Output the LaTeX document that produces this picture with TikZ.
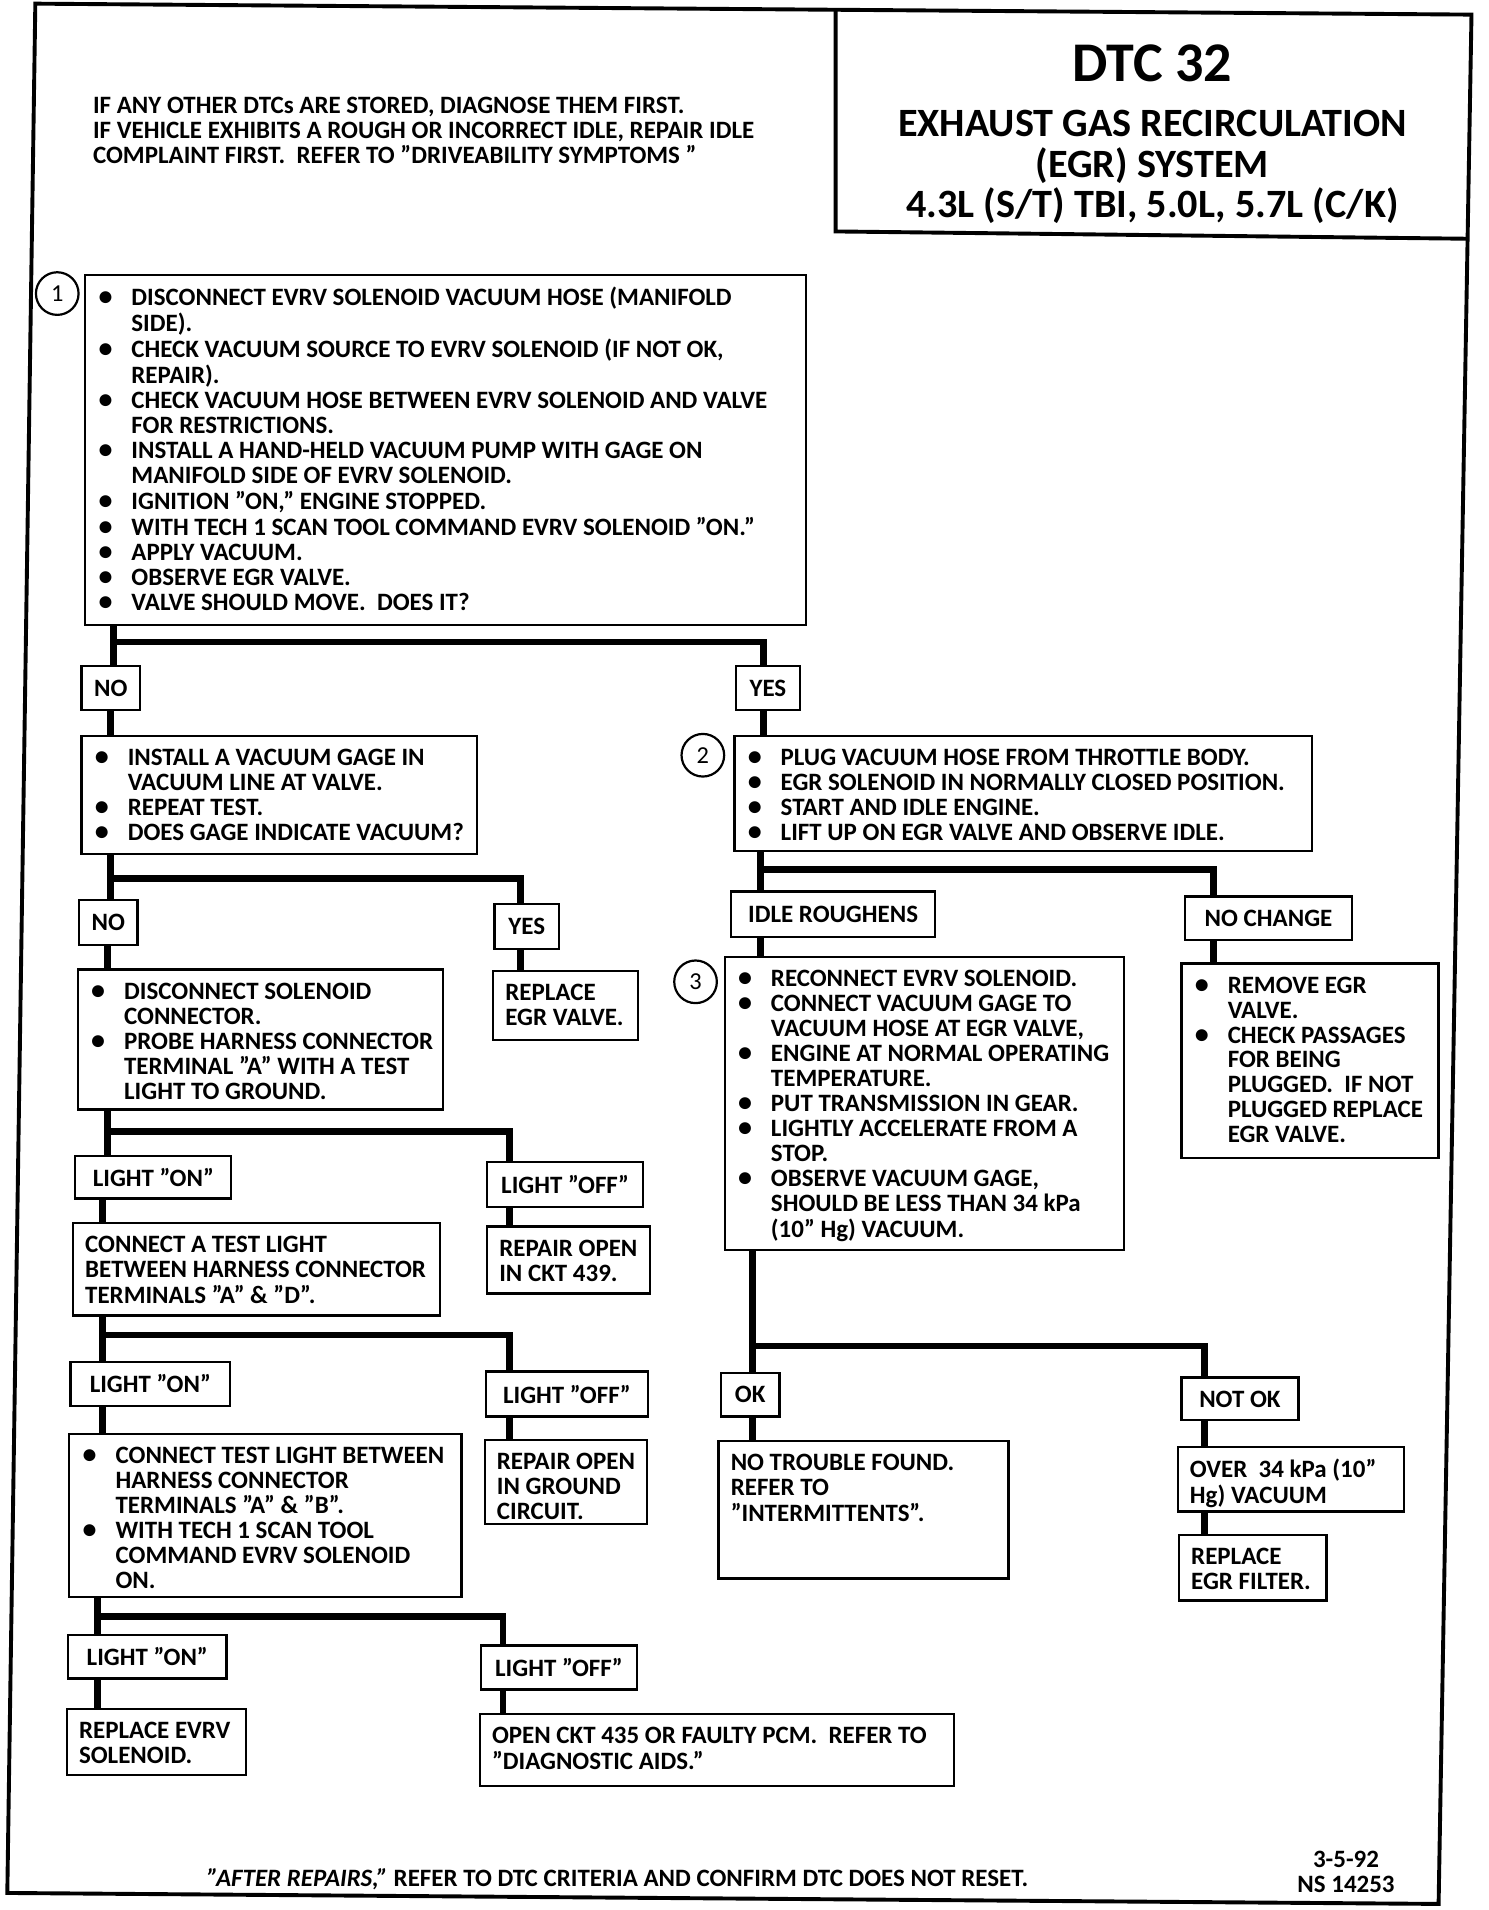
\documentclass[tikz,border=0pt]{standalone}
\usepackage{fontspec}
\setmainfont{Carlito}

% fixed-size text area inside a box (width and height in picture px)
\newcommand{\bx}[3]{\parbox[c][\dimexpr#2pt/2-10pt\relax][t]{\dimexpr#1pt/2-10pt\relax}{#3}}
\newcommand{\blist}[1]{\begin{tabular}{@{\hspace{0.5pt}}p{13.5pt}@{}l@{}}#1\end{tabular}}
\newcommand{\plist}[1]{\begin{tabular}{@{}l@{}}#1\end{tabular}}
\newcommand{\bul}{{\fontsize{11.5}{10}\selectfont\textbullet}}

\begin{document}
\begin{tikzpicture}[x=0.5pt,y=-0.5pt,
  every node/.style={font=\bfseries\fontsize{10.25}{10.25}\selectfont},
  box/.style={draw,line width=0.9pt,anchor=north west,inner xsep=5pt,inner ysep=5pt},
  tag/.style={draw,line width=0.9pt,anchor=north west,inner sep=0pt},
  num/.style={draw,circle,line width=0.9pt,minimum size=17.5pt,inner sep=0pt,font=\fontsize{10}{12}\selectfont},
  link/.style={line width=2.8pt},
  frame/.style={line width=1.6pt}]
\useasboundingbox (0,0) rectangle (1222,1568);

% frame and title box
\draw[frame] (29,3) -- (1208,12) -- (1181,1563) -- (6,1554) -- cycle;
\draw[frame] (686,8) -- (686,190) -- (1205,196);
\node[font=\bfseries\fontsize{23}{24}\selectfont] (dtc) at (946,52) {DTC 32};
\node[align=center,font=\bfseries\fontsize{16.5}{16.5}\selectfont] (sys) at (946,137) {EXHAUST GAS RECIRCULATION\\
  (EGR) SYSTEM\\ 4.3L (S/T) TBI, 5.0L, 5.7L (C/K)};
\node[anchor=north west,inner sep=0pt,align=left] (note) at (76,79) {IF ANY OTHER DTCs ARE STORED, DIAGNOSE THEM FIRST.\\
  IF VEHICLE EXHIBITS A ROUGH OR INCORRECT IDLE, REPAIR IDLE\\
  COMPLAINT FIRST.\ \ REFER TO "DRIVEABILITY SYMPTOMS "};

% step 1
\node[num] (n1) at (47,241) {1};
\node[box] (b1) at (69,225) {\bx{592}{287}{\blist{
  \bul & DISCONNECT EVRV SOLENOID VACUUM HOSE (MANIFOLD\\
  & SIDE).\\
  \bul & CHECK VACUUM SOURCE TO EVRV SOLENOID (IF NOT OK,\\
  & REPAIR).\\
  \bul & CHECK VACUUM HOSE BETWEEN EVRV SOLENOID AND VALVE\\
  & FOR RESTRICTIONS.\\
  \bul & INSTALL A HAND-HELD VACUUM PUMP WITH GAGE ON\\
  & MANIFOLD SIDE OF EVRV SOLENOID.\\
  \bul & IGNITION "ON," ENGINE STOPPED.\\
  \bul & WITH TECH 1 SCAN TOOL COMMAND EVRV SOLENOID "ON."\\
  \bul & APPLY VACUUM.\\
  \bul & OBSERVE EGR VALVE.\\
  \bul & VALVE SHOULD MOVE.\ \ DOES IT?}}};
\node[tag,minimum width=24pt,minimum height=18pt] (no1) at (66,546) {NO};
\node[tag,minimum width=26.5pt,minimum height=18pt] (yes1) at (603,546) {YES};

% left branch
\node[box] (b2) at (66,603) {\bx{325}{97}{\blist{
  \bul & INSTALL A VACUUM GAGE IN\\
  & VACUUM LINE AT VALVE.\\
  \bul & REPEAT TEST.\\
  \bul & DOES GAGE INDICATE VACUUM?}}};
\node[tag,minimum width=24pt,minimum height=18.5pt] (no2) at (64,738) {NO};
\node[tag,minimum width=26.5pt,minimum height=18.5pt] (yes2) at (405,741) {YES};
\node[box] (b4) at (63,795) {\bx{300}{115}{\blist{
  \bul & DISCONNECT SOLENOID\\
  & CONNECTOR.\\
  \bul & PROBE HARNESS CONNECTOR\\
  & TERMINAL "A" WITH A TEST\\
  & LIGHT TO GROUND.}}};
\node[box] (b5) at (404,796) {\bx{119}{57}{\plist{REPLACE\\ EGR VALVE.}}};
\node[tag,minimum width=64pt,minimum height=17.5pt] (on1) at (61,948) {LIGHT "ON"};
\node[tag,minimum width=64pt,minimum height=18.5pt] (off1) at (399,953) {LIGHT "OFF"};
\node[box] (b8) at (59,1003) {\bx{301}{76}{\plist{CONNECT A TEST LIGHT\\
  BETWEEN HARNESS CONNECTOR\\ TERMINALS "A" \& "D".}}};
\node[box] (b9) at (399,1006) {\bx{134}{55}{\plist{REPAIR OPEN\\ IN CKT 439.}}};
\node[tag,minimum width=65.5pt,minimum height=18pt] (on2) at (57,1117) {LIGHT "ON"};
\node[tag,minimum width=66.5pt,minimum height=18.5pt] (off2) at (398,1125) {LIGHT "OFF"};
\node[box] (b10) at (56,1176) {\bx{322}{134}{\blist{
  \bul & CONNECT TEST LIGHT BETWEEN\\
  & HARNESS CONNECTOR\\
  & TERMINALS "A" \& "B".\\
  \bul & WITH TECH 1 SCAN TOOL\\
  & COMMAND EVRV SOLENOID\\
  & ON.}}};
\node[box] (b11) at (397,1181) {\bx{133}{69}{\plist{REPAIR OPEN\\ IN GROUND\\ CIRCUIT.}}};
\node[tag,minimum width=65pt,minimum height=18pt] (on3) at (55,1341) {LIGHT "ON"};
\node[tag,minimum width=64pt,minimum height=18pt] (off3) at (394,1350) {LIGHT "OFF"};
\node[box] (b15) at (54,1402) {\bx{147}{54}{\plist{REPLACE EVRV\\ SOLENOID.}}};
\node[box] (b16) at (393,1406) {\bx{389}{59}{\plist{OPEN CKT 435 OR FAULTY PCM.\ \ REFER TO\\ "DIAGNOSTIC AIDS."}}};

% right branch
\node[num] (n2) at (577,620) {2};
\node[box] (b3) at (602,603) {\bx{474}{95}{\blist{
  \bul & PLUG VACUUM HOSE FROM THROTTLE BODY.\\
  \bul & EGR SOLENOID IN NORMALLY CLOSED POSITION.\\
  \bul & START AND IDLE ENGINE.\\
  \bul & LIFT UP ON EGR VALVE AND OBSERVE IDLE.}}};
\node[tag,minimum width=84pt,minimum height=18.5pt] (idle) at (599,731) {IDLE ROUGHENS};
\node[tag,minimum width=68.5pt,minimum height=18pt] (nochg) at (972,735) {NO CHANGE};
\node[num] (n3) at (571,806) {3};
\node[box] (b6) at (594,785) {\bx{328}{240}{\blist{
  \bul & RECONNECT EVRV SOLENOID.\\
  \bul & CONNECT VACUUM GAGE TO\\
  & VACUUM HOSE AT EGR VALVE,\\
  \bul & ENGINE AT NORMAL OPERATING\\
  & TEMPERATURE.\\
  \bul & PUT TRANSMISSION IN GEAR.\\
  \bul & LIGHTLY ACCELERATE FROM A\\
  & STOP.\\
  \bul & OBSERVE VACUUM GAGE,\\
  & SHOULD BE LESS THAN 34 kPa\\
  & (10" Hg) VACUUM.}}};
\node[box] (b7) at (969,790) {\bx{211}{160}{\blist{
  \bul & REMOVE EGR\\
  & VALVE.\\
  \bul & CHECK PASSAGES\\
  & FOR BEING\\
  & PLUGGED.\ \ IF NOT\\
  & PLUGGED REPLACE\\
  & EGR VALVE.}}};
\node[tag,minimum width=24pt,minimum height=18pt] (ok) at (591,1126) {OK};
\node[tag,minimum width=48pt,minimum height=17.5pt] (notok) at (969,1130) {NOT OK};
\node[box] (b12) at (589,1182) {\bx{238}{113}{\plist{NO TROUBLE FOUND.\\ REFER TO\\ "INTERMITTENTS".}}};
\node[box] (b13) at (966,1187) {\bx{186}{53}{\plist{OVER\ \ 34 kPa (10"\\ Hg) VACUUM}}};
\node[box] (b14) at (967,1259) {\bx{121}{54}{\plist{REPLACE\\ EGR FILTER.}}};

% footer
\node[anchor=west,inner sep=0pt] (foot) at (170,1543) {{\itshape "AFTER REPAIRS,"} REFER TO DTC CRITERIA\ AND CONFIRM DTC DOES NOT RESET.};
\node[align=center,inner sep=0pt] (doc) at (1105,1537) {3-5-92\\NS 14253};

% connectors
\coordinate (j1) at (93,527);   \coordinate (k1) at (627,527);
\coordinate (j2) at (91,721);   \coordinate (k2) at (427,721);
\coordinate (j3) at (624,714);  \coordinate (k3) at (996,714);
\coordinate (j4) at (88,929);   \coordinate (k4) at (418,929);
\coordinate (j5) at (84,1096);  \coordinate (k5) at (418,1096);
\coordinate (j6) at (618,1105); \coordinate (k6) at (989,1105);
\coordinate (j7) at (80,1327);  \coordinate (k7) at (413,1327);

\draw[link] (b1.south -| j1) -- (no1.north -| j1);
\draw[link] (j1) -- (k1) -- (yes1.north -| k1);
\draw[link] (no1.south -| j2) -- (b2.north -| j2);
\draw[link] (yes1.south -| k1) -- (b3.north -| k1);

\draw[link] (b2.south -| j2) -- (no2.north -| j2);
\draw[link] (j2) -- (k2) -- (yes2.north -| k2);
\draw[link] (no2.south -| j4) -- (b4.north -| j4);
\draw[link] (yes2.south -| k2) -- (b5.north -| k2);

\draw[link] (b3.south -| j3) -- (idle.north -| j3);
\draw[link] (j3) -- (k3) -- (nochg.north -| k3);
\draw[link] (idle.south -| j3) -- (b6.north -| j3);
\draw[link] (nochg.south -| k3) -- (b7.north -| k3);

\draw[link] (b4.south -| j4) -- (on1.north -| j4);
\draw[link] (j4) -- (k4) -- (off1.north -| k4);
\draw[link] (on1.south -| j5) -- (b8.north -| j5);
\draw[link] (off1.south -| k4) -- (b9.north -| k4);

\draw[link] (b8.south -| j5) -- (on2.north -| j5);
\draw[link] (j5) -- (k5) -- (off2.north -| k5);
\draw[link] (on2.south -| j5) -- (b10.north -| j5);
\draw[link] (off2.south -| k5) -- (b11.north -| k5);

\draw[link] (b6.south -| j6) -- (ok.north -| j6);
\draw[link] (j6) -- (k6) -- (notok.north -| k6);
\draw[link] (ok.south -| j6) -- (b12.north -| j6);
\draw[link] (notok.south -| k6) -- (b13.north -| k6);
\draw[link] (b13.south -| k6) -- (b14.north -| k6);

\draw[link] (b10.south -| j7) -- (on3.north -| j7);
\draw[link] (j7) -- (k7) -- (off3.north -| k7);
\draw[link] (on3.south -| j7) -- (b15.north -| j7);
\draw[link] (off3.south -| k7) -- (b16.north -| k7);
\end{tikzpicture}
\end{document}
